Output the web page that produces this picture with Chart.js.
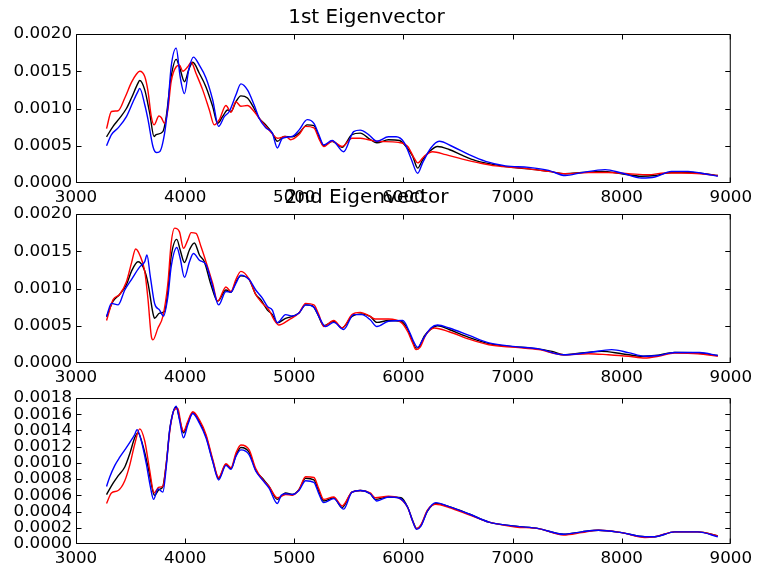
<!DOCTYPE html>
<html>
<head>
<meta charset="utf-8">
<script src="https://cdn.jsdelivr.net/npm/chart.js@4/dist/chart.umd.min.js"></script>
<style>
  html, body { margin: 0; padding: 0; background: #fff; overflow: hidden; }
  #wrap { position: relative; width: 757px; height: 570px; }
  #wrap canvas { position: absolute; left: 0; }
</style>
</head>
<body>
<div id="wrap">
  <canvas id="ev1" width="757" height="213" style="top:0px"></canvas>
  <canvas id="ev2" width="757" height="213" style="top:180px"></canvas>
  <canvas id="ev3" width="757" height="186" style="top:384px"></canvas>
</div>
<script>
// spectra, [wavelength, value in units of 1e-3]
const UNIT = 1e-3;

const ev1Black = [[3280,0.62],[3340,0.76],[3400,0.87],[3462,1.00],[3508,1.14],[3568,1.34],[3584,1.375],[3630,1.25],[3675,0.94],[3715,0.625],[3735,0.65],[3796,0.69],[3827,0.89],[3872,1.43],[3918,1.66],[3948,1.56],[3994,1.36],[4033,1.52],[4070,1.62],[4131,1.47],[4191,1.29],[4252,1.03],[4298,0.80],[4343,0.89],[4389,0.98],[4420,0.96],[4465,1.09],[4511,1.17],[4571,1.14],[4632,1.00],[4678,0.87],[4739,0.78],[4799,0.67],[4845,0.56],[4906,0.625],[4982,0.62],[5043,0.67],[5119,0.78],[5180,0.77],[5225,0.625],[5270,0.50],[5347,0.56],[5438,0.48],[5529,0.65],[5605,0.67],[5681,0.60],[5757,0.54],[5863,0.58],[5964,0.57],[6024,0.49],[6085,0.36],[6131,0.20],[6176,0.31],[6237,0.42],[6313,0.49],[6419,0.45],[6541,0.37],[6663,0.30],[6784,0.26],[6936,0.22],[7149,0.19],[7331,0.156],[7483,0.125],[7635,0.14],[7818,0.156],[8000,0.125],[8182,0.09],[8304,0.10],[8456,0.14],[8608,0.14],[8760,0.125],[8881,0.10]];
const ev1Red = [[3280,0.73],[3325,0.96],[3386,0.97],[3447,1.14],[3508,1.35],[3553,1.46],[3584,1.50],[3630,1.43],[3660,1.23],[3690,0.89],[3715,0.78],[3760,0.90],[3781,0.88],[3812,0.80],[3842,0.98],[3872,1.36],[3918,1.56],[3948,1.58],[3979,1.50],[4024,1.56],[4055,1.62],[4100,1.47],[4161,1.25],[4222,0.98],[4267,0.78],[4313,0.85],[4374,1.04],[4420,0.95],[4465,1.09],[4511,1.03],[4571,1.04],[4632,0.96],[4678,0.87],[4739,0.76],[4799,0.66],[4845,0.60],[4921,0.625],[4967,0.58],[5043,0.65],[5104,0.76],[5180,0.74],[5225,0.60],[5270,0.49],[5347,0.56],[5438,0.49],[5529,0.60],[5605,0.60],[5681,0.58],[5757,0.56],[5954,0.545],[6040,0.49],[6100,0.33],[6131,0.27],[6191,0.36],[6267,0.42],[6389,0.38],[6541,0.32],[6693,0.27],[6845,0.23],[7088,0.20],[7331,0.156],[7483,0.125],[7696,0.14],[7878,0.14],[8061,0.125],[8243,0.11],[8395,0.134],[8547,0.134],[8730,0.125],[8881,0.10]];
const ev1Blue = [[3280,0.50],[3325,0.65],[3386,0.74],[3462,0.89],[3523,1.09],[3568,1.23],[3584,1.27],[3630,1.05],[3660,0.85],[3705,0.49],[3735,0.41],[3766,0.42],[3812,0.67],[3842,1.03],[3872,1.56],[3918,1.81],[3954,1.43],[3994,1.20],[4033,1.52],[4076,1.69],[4131,1.58],[4191,1.41],[4252,1.12],[4307,0.76],[4359,0.89],[4404,0.96],[4465,1.18],[4511,1.33],[4571,1.25],[4632,1.05],[4678,0.87],[4739,0.74],[4799,0.67],[4845,0.47],[4891,0.60],[4982,0.625],[5043,0.71],[5119,0.85],[5180,0.80],[5225,0.65],[5270,0.51],[5347,0.57],[5453,0.42],[5544,0.69],[5605,0.71],[5681,0.65],[5757,0.56],[5863,0.62],[5933,0.62],[6009,0.54],[6070,0.33],[6131,0.13],[6176,0.27],[6252,0.47],[6328,0.56],[6450,0.49],[6602,0.38],[6754,0.29],[6936,0.23],[7149,0.21],[7331,0.17],[7483,0.10],[7635,0.14],[7848,0.18],[8000,0.134],[8182,0.067],[8304,0.08],[8456,0.156],[8608,0.156],[8760,0.125],[8881,0.09]];

const ev2Black = [[3280,0.62],[3340,0.83],[3400,0.92],[3462,1.05],[3508,1.23],[3568,1.36],[3615,1.29],[3660,1.07],[3705,0.67],[3720,0.60],[3766,0.67],[3812,0.69],[3842,0.98],[3872,1.43],[3924,1.66],[3954,1.52],[3994,1.35],[4040,1.52],[4085,1.61],[4131,1.45],[4176,1.36],[4237,1.05],[4298,0.83],[4374,0.98],[4420,0.95],[4465,1.09],[4511,1.17],[4587,1.12],[4647,0.92],[4693,0.85],[4754,0.71],[4799,0.65],[4845,0.54],[4921,0.60],[4982,0.625],[5043,0.67],[5104,0.78],[5164,0.77],[5210,0.67],[5270,0.50],[5362,0.56],[5438,0.47],[5529,0.625],[5620,0.66],[5696,0.625],[5757,0.545],[5863,0.57],[5979,0.56],[6040,0.45],[6085,0.29],[6116,0.20],[6146,0.22],[6191,0.36],[6252,0.455],[6313,0.50],[6419,0.45],[6571,0.36],[6784,0.26],[6997,0.22],[7179,0.20],[7362,0.156],[7468,0.11],[7635,0.134],[7818,0.156],[8000,0.125],[8197,0.09],[8304,0.10],[8486,0.14],[8699,0.134],[8881,0.10]];
const ev2Red = [[3280,0.57],[3340,0.85],[3400,0.92],[3462,1.09],[3508,1.34],[3547,1.53],[3584,1.45],[3630,1.23],[3660,0.85],[3690,0.36],[3705,0.31],[3751,0.47],[3796,0.625],[3842,1.07],[3872,1.61],[3903,1.81],[3948,1.76],[3985,1.54],[4024,1.65],[4055,1.75],[4100,1.74],[4146,1.56],[4191,1.36],[4252,1.07],[4298,0.83],[4374,1.02],[4420,0.96],[4465,1.12],[4511,1.23],[4587,1.125],[4647,0.92],[4708,0.80],[4769,0.71],[4815,0.58],[4860,0.51],[4951,0.58],[5043,0.67],[5104,0.80],[5180,0.78],[5225,0.65],[5270,0.49],[5362,0.57],[5438,0.47],[5529,0.65],[5605,0.68],[5696,0.625],[5742,0.59],[5863,0.59],[5979,0.545],[6040,0.42],[6085,0.27],[6116,0.18],[6152,0.21],[6207,0.38],[6283,0.47],[6419,0.42],[6602,0.32],[6784,0.245],[7027,0.21],[7240,0.18],[7468,0.11],[7696,0.125],[7878,0.11],[8061,0.09],[8213,0.067],[8334,0.09],[8486,0.134],[8699,0.125],[8881,0.09]];
const ev2Blue = [[3280,0.625],[3325,0.80],[3386,0.78],[3447,0.98],[3508,1.12],[3584,1.29],[3630,1.36],[3650,1.45],[3681,1.16],[3720,0.80],[3766,0.71],[3802,0.63],[3842,0.89],[3872,1.29],[3924,1.55],[3954,1.41],[3994,1.15],[4040,1.36],[4076,1.47],[4131,1.38],[4191,1.32],[4252,1.03],[4307,0.78],[4374,0.96],[4420,0.95],[4465,1.07],[4511,1.18],[4587,1.12],[4647,0.98],[4708,0.87],[4754,0.76],[4799,0.71],[4845,0.54],[4921,0.65],[4982,0.63],[5043,0.67],[5104,0.78],[5180,0.75],[5225,0.625],[5286,0.49],[5362,0.545],[5453,0.45],[5544,0.65],[5620,0.65],[5696,0.58],[5757,0.49],[5863,0.56],[5994,0.57],[6055,0.42],[6100,0.27],[6131,0.21],[6176,0.31],[6252,0.47],[6313,0.51],[6419,0.47],[6602,0.37],[6784,0.27],[7027,0.22],[7240,0.19],[7468,0.11],[7696,0.14],[7909,0.18],[8061,0.14],[8213,0.09],[8334,0.10],[8486,0.14],[8714,0.14],[8881,0.10]];

const ev3Black = [[3280,0.61],[3340,0.75],[3386,0.84],[3447,0.95],[3492,1.11],[3538,1.31],[3568,1.37],[3614,1.21],[3660,0.95],[3705,0.65],[3720,0.60],[3760,0.67],[3796,0.71],[3827,0.99],[3857,1.39],[3887,1.61],[3918,1.69],[3948,1.55],[3985,1.37],[4024,1.49],[4070,1.62],[4131,1.51],[4191,1.33],[4252,1.03],[4307,0.81],[4374,0.98],[4420,0.93],[4465,1.09],[4511,1.19],[4587,1.13],[4647,0.91],[4708,0.81],[4769,0.71],[4845,0.55],[4921,0.63],[4982,0.61],[5043,0.67],[5104,0.81],[5180,0.79],[5225,0.65],[5270,0.53],[5362,0.57],[5438,0.45],[5529,0.64],[5605,0.66],[5696,0.62],[5742,0.55],[5863,0.58],[5979,0.57],[6040,0.45],[6085,0.29],[6122,0.19],[6161,0.23],[6222,0.41],[6298,0.50],[6419,0.46],[6602,0.37],[6784,0.27],[7027,0.22],[7240,0.19],[7468,0.12],[7635,0.15],[7787,0.17],[8000,0.14],[8213,0.09],[8304,0.09],[8486,0.15],[8699,0.15],[8881,0.10]];
const ev3Red = [[3280,0.50],[3325,0.63],[3386,0.66],[3447,0.78],[3492,0.97],[3538,1.23],[3584,1.42],[3630,1.27],[3675,0.91],[3715,0.63],[3760,0.70],[3796,0.71],[3827,0.99],[3863,1.43],[3903,1.66],[3933,1.67],[3963,1.47],[3985,1.39],[4024,1.51],[4070,1.63],[4131,1.53],[4191,1.35],[4252,1.05],[4307,0.82],[4374,0.99],[4420,0.94],[4465,1.12],[4511,1.22],[4587,1.16],[4647,0.93],[4708,0.80],[4769,0.71],[4845,0.57],[4921,0.61],[4982,0.60],[5043,0.67],[5104,0.83],[5180,0.82],[5225,0.68],[5270,0.55],[5362,0.58],[5438,0.47],[5529,0.64],[5605,0.66],[5696,0.63],[5742,0.57],[5863,0.59],[5954,0.57],[6040,0.45],[6085,0.28],[6122,0.19],[6161,0.24],[6222,0.42],[6298,0.49],[6419,0.45],[6602,0.36],[6784,0.27],[7027,0.21],[7240,0.19],[7468,0.11],[7635,0.14],[7787,0.17],[8000,0.14],[8213,0.08],[8304,0.09],[8486,0.15],[8699,0.15],[8881,0.10]];
const ev3Blue = [[3280,0.71],[3310,0.83],[3356,0.97],[3401,1.07],[3447,1.16],[3492,1.25],[3538,1.35],[3559,1.41],[3599,1.27],[3644,0.99],[3681,0.71],[3711,0.55],[3751,0.68],[3796,0.64],[3827,0.95],[3857,1.39],[3887,1.61],[3918,1.70],[3948,1.53],[3985,1.31],[4024,1.47],[4070,1.61],[4131,1.49],[4191,1.31],[4252,1.02],[4307,0.79],[4374,0.97],[4420,0.92],[4465,1.08],[4511,1.16],[4587,1.10],[4647,0.90],[4708,0.79],[4769,0.69],[4845,0.50],[4880,0.60],[4921,0.62],[4982,0.61],[5043,0.66],[5104,0.78],[5180,0.76],[5225,0.62],[5270,0.51],[5362,0.56],[5453,0.43],[5529,0.64],[5605,0.66],[5696,0.62],[5757,0.53],[5863,0.58],[5954,0.57],[6040,0.45],[6085,0.28],[6122,0.18],[6161,0.22],[6222,0.41],[6298,0.51],[6419,0.46],[6602,0.37],[6784,0.27],[7027,0.22],[7240,0.19],[7468,0.12],[7635,0.15],[7787,0.17],[8000,0.14],[8213,0.09],[8304,0.09],[8486,0.15],[8699,0.15],[8881,0.09]];

const xMin = 3000, xMax = 9000, xStep = 1000;

Chart.defaults.font.family = "'DejaVu Sans', sans-serif";
Chart.defaults.font.size = 16.7;
Chart.defaults.color = '#000';

// box around the plot area with ticks pointing inwards on all four sides
const frame = {
  id: 'frame',
  afterDatasetsDraw(chart) {
    const { ctx, chartArea: a, scales: { x, y } } = chart;
    const len = 5;
    const l = a.left + 0.5, r = a.right - 0.5, t = a.top + 0.5, b = a.bottom - 0.5;
    const clamp = (v, lo, hi) => Math.min(hi, Math.max(lo, v));
    ctx.save();
    ctx.strokeStyle = '#000';
    ctx.lineWidth = 1;
    ctx.beginPath();
    x.ticks.forEach(tk => {
      const px = clamp(Math.round(x.getPixelForValue(tk.value)) + 0.5, l, r);
      ctx.moveTo(px, b); ctx.lineTo(px, b - len);
      ctx.moveTo(px, t); ctx.lineTo(px, t + len);
    });
    y.ticks.forEach(tk => {
      const py = clamp(Math.round(y.getPixelForValue(tk.value)) + 0.5, t, b);
      ctx.moveTo(l, py); ctx.lineTo(l + len, py);
      ctx.moveTo(r, py); ctx.lineTo(r - len, py);
    });
    ctx.rect(l, t, r - l, b - t);
    ctx.stroke();
    ctx.restore();
  }
};

const toPoints = arr => arr.map(([w, v]) => ({ x: w, y: v * UNIT }));

const line = (data, color, order) => ({
  data: toPoints(data),
  borderColor: color,
  borderWidth: 1.4,
  pointRadius: 0,
  cubicInterpolationMode: 'monotone',
  fill: false,
  order
});

function makePanel(id, title, black, red, blue, yMax, yStep, padTop, xHeight) {
  return new Chart(document.getElementById(id), {
    type: 'line',
    data: {
      datasets: [line(black, '#000000', 3), line(red, '#ff0000', 2), line(blue, '#0000ff', 1)]
    },
    options: {
      responsive: false,
      animation: false,
      layout: { padding: { top: padTop, right: 24, bottom: 0, left: 0 } },
      plugins: {
        legend: { display: false },
        tooltip: { enabled: false },
        title: {
          display: !!title,
          text: title,
          color: '#000',
          font: { size: 20, weight: 'normal' },
          padding: { top: 6, bottom: 4 }
        }
      },
      scales: {
        x: {
          type: 'linear',
          min: xMin, max: xMax,
          grid: { display: false, drawTicks: false },
          border: { display: false },
          ticks: { stepSize: xStep, padding: 5, maxRotation: 0, autoSkip: false, callback: v => String(v) },
          afterFit: s => { s.height = xHeight; }
        },
        y: {
          min: 0, max: yMax,
          grid: { display: false, drawTicks: false },
          border: { display: false },
          ticks: { stepSize: yStep, padding: 4, autoSkip: false, callback: v => v.toFixed(4) },
          afterFit: s => { s.width = 76; }
        }
      }
    },
    plugins: [frame]
  });
}

makePanel('ev1', '1st Eigenvector', ev1Black, ev1Red, ev1Blue, 0.002, 0.0005, 0, 30);
makePanel('ev2', '2nd Eigenvector', ev2Black, ev2Red, ev2Blue, 0.002, 0.0005, 0, 30);
makePanel('ev3', '', ev3Black, ev3Red, ev3Blue, 0.0018, 0.0002, 10, 26);
</script>
</body>
</html>
